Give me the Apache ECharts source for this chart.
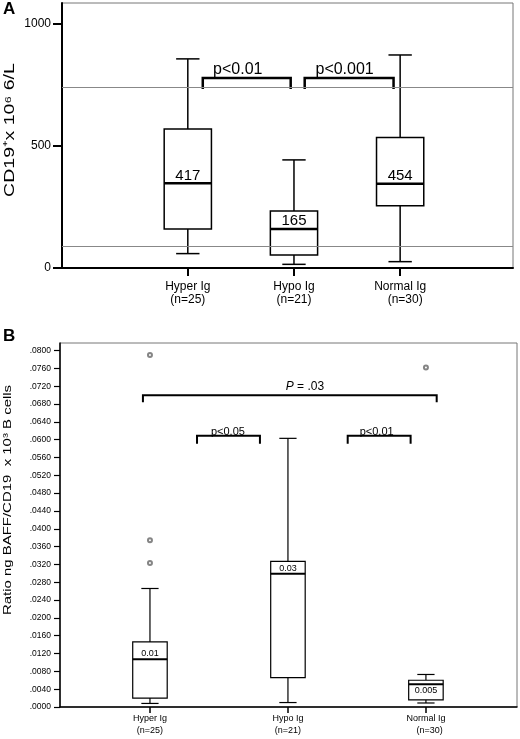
<!DOCTYPE html>
<html>
<head>
<meta charset="utf-8">
<script src="https://cdn.jsdelivr.net/npm/echarts@6/dist/echarts.min.js"></script>
<style>
html,body{margin:0;padding:0;background:#fff;}
#c{width:520px;height:739px;}
</style>
</head>
<body>
<div id="c"></div>
<script>
// ---------- shared categories ----------
const categories = ['Hyper Ig', 'Hypo Ig', 'Normal Ig'];
const groupSizes = ['(n=25)', '(n=21)', '(n=30)'];
const categoryPositions = [1, 2, 3];

// ---------- Panel A: CD19+ x 10^6/L  [low whisker, Q1, median, Q3, high whisker] ----------
const cd19Hyper = [59, 160, 347, 570, 857];
const cd19Hypo = [15, 53, 160, 234, 443];
const cd19Normal = [26, 255, 345, 535, 873];
const cd19MedianLabels = ['417', '165', '454'];
const cd19RefLines = [742, 89];
const cd19TickValues = [0, 500, 1000];
// brackets: [x start, x end, bar value, foot value, text x]
const cd19Brackets = [[1.141, 1.969, 779, 734, 1.471], [2.101, 2.938, 779, 734, 2.477]];
const cd19BracketLabels = ['p<0.01', 'p<0.001'];

// ---------- Panel B: Ratio ng BAFF/CD19 x 10^3 B cells ----------
const ratioHyper = [0.0008, 0.0020, 0.0107, 0.0146, 0.0266];
const ratioHypo = [0.0010, 0.0066, 0.0299, 0.0327, 0.0603];
const ratioNormal = [0.0009, 0.0016, 0.0051, 0.0060, 0.0073];
const ratioMedianLabels = ['0.01', '0.03', '0.005'];
const ratioLabelSide = ['above', 'above', 'below'];
const ratioOutliers = [[1, 0.0790], [1, 0.0374], [1, 0.0323], [3, 0.0762]];
const ratioTickValues = [0, 0.004, 0.008, 0.012, 0.016, 0.020, 0.024, 0.028, 0.032, 0.036,
  0.040, 0.044, 0.048, 0.052, 0.056, 0.060, 0.064, 0.068, 0.072, 0.076, 0.080];
const ratioBrackets = [[0.949, 3.078, 0.0700, 0.0684, 2.123], [1.341, 1.797, 0.0609, 0.0591, 1.565], [2.433, 2.889, 0.0609, 0.0591, 2.643]];
const ratioBracketLabels = ['{i|P} = .03', 'p<0.05', 'p<0.01'];

const FONT = '"Liberation Sans", Arial, Helvetica, sans-serif';

function boxRenderer(cfg) {
  return function (params, api) {
    const x = api.value(0);
    const pt = i => api.coord([x, api.value(i)]);
    const lo = pt(1), q1 = pt(2), md = pt(3), q3 = pt(4), hi = pt(5);
    const cx = lo[0];
    const bw = api.size([cfg.boxW, 0])[0];
    const cw = api.size([cfg.capW, 0])[0];
    const st = { stroke: '#000', lineWidth: cfg.lw, fill: null };
    const below = cfg.side && cfg.side[params.dataIndex] === 'below';
    return {
      type: 'group',
      children: [
        { type: 'line', shape: { x1: cx, y1: hi[1], x2: cx, y2: q3[1] }, style: st },
        { type: 'line', shape: { x1: cx, y1: q1[1], x2: cx, y2: lo[1] }, style: st },
        { type: 'line', shape: { x1: cx - cw / 2, y1: hi[1], x2: cx + cw / 2, y2: hi[1] }, style: st },
        { type: 'line', shape: { x1: cx - cw / 2, y1: lo[1], x2: cx + cw / 2, y2: lo[1] }, style: st },
        { type: 'rect', shape: { x: cx - bw / 2, y: q3[1], width: bw, height: q1[1] - q3[1] },
          style: { fill: '#fff', stroke: '#000', lineWidth: cfg.lw } },
        { type: 'line', shape: { x1: cx - bw / 2, y1: md[1], x2: cx + bw / 2, y2: md[1] },
          style: { stroke: '#000', lineWidth: cfg.medW } },
        { type: 'text', x: cx, y: below ? md[1] + cfg.medW / 2 + 1 : md[1] - cfg.medW / 2 + cfg.textDy,
          style: { text: cfg.labels[params.dataIndex], fontSize: cfg.fontSize, fontFamily: FONT,
            fill: '#000', align: 'center', verticalAlign: below ? 'top' : 'bottom' } }
      ]
    };
  };
}

function bracketRenderer(cfg) {
  return function (params, api) {
    const a = api.coord([api.value(0), api.value(2)]);
    const b = api.coord([api.value(1), api.value(2)]);
    const foot = api.coord([api.value(0), api.value(3)])[1];
    const tx = api.coord([api.value(4), api.value(2)])[0];
    const fs = cfg.fontSize[params.dataIndex];
    return {
      type: 'group',
      children: [
        { type: 'polyline', shape: { points: [[a[0], foot], [a[0], a[1]], [b[0], b[1]], [b[0], foot]] },
          style: { stroke: '#000', lineWidth: cfg.lw, fill: null } },
        { type: 'text', x: tx, y: a[1] + cfg.textDy[params.dataIndex],
          style: { text: cfg.labels[params.dataIndex], fontSize: fs, fontFamily: FONT,
            fill: '#000', align: 'center', verticalAlign: 'bottom',
            rich: { i: { fontStyle: 'italic', fontSize: fs, fontFamily: FONT } } } }
      ]
    };
  };
}

function catLabel(v) {
  const i = categoryPositions.indexOf(Math.round(v));
  if (i < 0) return '';
  return categories[i] + '\n' + (i === 2 ? '   ' : '') + groupSizes[i];
}

const chart = echarts.init(document.getElementById('c'));
chart.setOption({
  animation: false,
  backgroundColor: '#fff',
  textStyle: { fontFamily: FONT },
  grid: [
    { left: 62, top: 3, width: 451, height: 265, show: true, borderColor: '#777', borderWidth: 1, backgroundColor: 'transparent' },
    { left: 60, top: 343, width: 457, height: 364, show: true, borderColor: '#777', borderWidth: 1, backgroundColor: 'transparent' }
  ],
  xAxis: [
    { type: 'value', gridIndex: 0, min: -0.185, max: 4.063, splitLine: { show: false },
      axisLine: { show: true, onZero: false, lineStyle: { color: '#000', width: 2 } },
      axisTick: { show: true, customValues: categoryPositions, length: 8, lineStyle: { color: '#000', width: 2 } },
      axisLabel: { customValues: categoryPositions, formatter: catLabel, fontSize: 12, lineHeight: 13, color: '#000', margin: 12, fontFamily: FONT } },
    { type: 'value', gridIndex: 1, min: 0.348, max: 3.66, splitLine: { show: false },
      axisLine: { show: true, onZero: false, lineStyle: { color: '#000', width: 1.5 } },
      axisTick: { show: true, customValues: categoryPositions, length: 6, lineStyle: { color: '#000', width: 1.5 } },
      axisLabel: { customValues: categoryPositions, formatter: catLabel, fontSize: 9, lineHeight: 11.5, color: '#000', margin: 6, fontFamily: FONT } }
  ],
  yAxis: [
    { type: 'value', gridIndex: 0, min: 0, max: 1086, splitLine: { show: false },
      axisLine: { show: true, onZero: false, lineStyle: { color: '#000', width: 2 } },
      axisTick: { show: true, customValues: cd19TickValues, length: 9, lineStyle: { color: '#000', width: 2 } },
      axisLabel: { customValues: cd19TickValues, fontSize: 12, color: '#000', margin: 11, fontFamily: FONT,
        formatter: v => String(v) } },
    { type: 'value', gridIndex: 1, min: 0, max: 0.0817, splitLine: { show: false },
      axisLine: { show: true, onZero: false, lineStyle: { color: '#000', width: 1.5 } },
      axisTick: { show: true, customValues: ratioTickValues, length: 6, lineStyle: { color: '#000', width: 1.2 } },
      axisLabel: { customValues: ratioTickValues, fontSize: 8.5, color: '#000', margin: 9, fontFamily: FONT,
        formatter: v => v.toFixed(4).replace(/^0/, '') } }
  ],
  series: [
    { type: 'line', xAxisIndex: 0, yAxisIndex: 0, data: [], z: 1, silent: true,
      markLine: { symbol: 'none', silent: true, animation: false, label: { show: false },
        lineStyle: { color: '#888', width: 1, type: 'solid' },
        data: cd19RefLines.map(v => ({ yAxis: v })) } },
    { type: 'custom', xAxisIndex: 0, yAxisIndex: 0, z: 3,
      renderItem: boxRenderer({ boxW: 0.445, capW: 0.22, lw: 1.5, medW: 2.5, fontSize: 15, textDy: 1, labels: cd19MedianLabels }),
      encode: { x: 0, y: [1, 2, 3, 4, 5] },
      data: [[1, ...cd19Hyper], [2, ...cd19Hypo], [3, ...cd19Normal]] },
    { type: 'custom', xAxisIndex: 0, yAxisIndex: 0, z: 4,
      renderItem: bracketRenderer({ lw: 2.5, textDy: [0, 0], fontSize: [16, 16], labels: cd19BracketLabels }),
      encode: { x: [0, 1], y: [2, 3] },
      data: cd19Brackets },
    { type: 'custom', xAxisIndex: 1, yAxisIndex: 1, z: 3,
      renderItem: boxRenderer({ boxW: 0.25, capW: 0.125, lw: 1.2, medW: 2, fontSize: 9, textDy: 0, labels: ratioMedianLabels, side: ratioLabelSide }),
      encode: { x: 0, y: [1, 2, 3, 4, 5] },
      data: [[1, ...ratioHyper], [2, ...ratioHypo], [3, ...ratioNormal]] },
    { type: 'scatter', xAxisIndex: 1, yAxisIndex: 1, z: 5, symbol: 'emptyCircle', symbolSize: 4,
      itemStyle: { color: '#666', borderColor: '#666', borderWidth: 1 },
      data: ratioOutliers },
    { type: 'custom', xAxisIndex: 1, yAxisIndex: 1, z: 4,
      renderItem: bracketRenderer({ lw: 2, textDy: [-2, 2, 2], fontSize: [12, 11, 11], labels: ratioBracketLabels }),
      encode: { x: [0, 1], y: [2, 3] },
      data: ratioBrackets }
  ],
  graphic: [
    { type: 'text', x: 3, y: 1, style: { text: 'A', fontSize: 17, fontWeight: 'bold', fontFamily: FONT, fill: '#000' } },
    { type: 'text', x: 3, y: 328, style: { text: 'B', fontSize: 17, fontWeight: 'bold', fontFamily: FONT, fill: '#000' } },
    { type: 'text', x: 10, y: 130, rotation: Math.PI / 2, scaleX: 1.3,
      style: { text: 'CD19⁺x 10⁶ 6/L', fontSize: 15, fontFamily: FONT, fill: '#000', align: 'center', verticalAlign: 'middle' } },
    { type: 'text', x: 8, y: 500, rotation: Math.PI / 2, scaleX: 1.3,
      style: { text: 'Ratio ng BAFF/CD19  x 10³ B cells', fontSize: 11.5, fontFamily: FONT, fill: '#000', align: 'center', verticalAlign: 'middle' } }
  ]
});
</script>
</body>
</html>
